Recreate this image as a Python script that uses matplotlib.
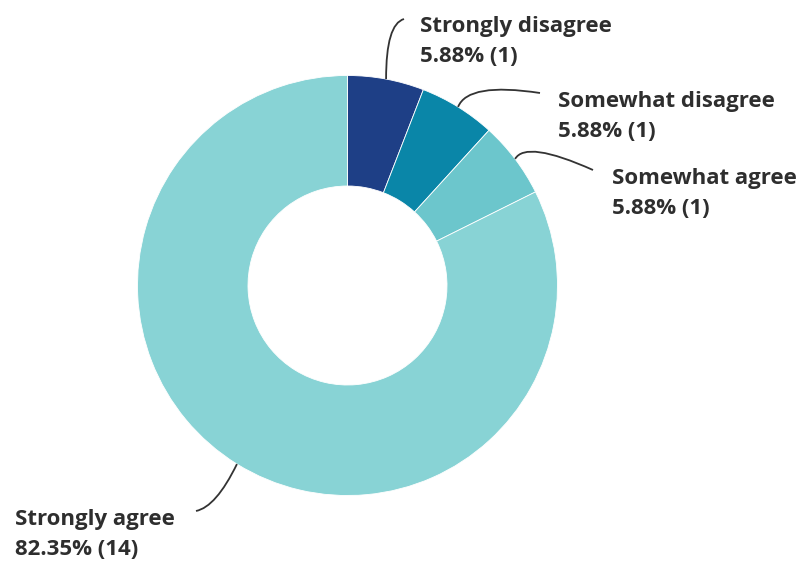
import numpy as np
import matplotlib
matplotlib.use("Agg")
import matplotlib.pyplot as plt
from matplotlib.path import Path
from matplotlib.patches import PathPatch

categories = ["Strongly disagree", "Somewhat disagree", "Somewhat agree", "Strongly agree"]
counts = [1, 1, 1, 14]
percents = ["5.88%", "5.88%", "5.88%", "82.35%"]
colors = ["#1e3f86", "#0a86a8", "#6cc6cc", "#88d3d5"]

W, H = 804, 562
fig = plt.figure(figsize=(W / 100, H / 100), dpi=100)
ax = fig.add_axes([0, 0, 1, 1])

cx, cy, R, r_in = 347.5, 285.5, 210, 99.5
# y axis inverted (pixel-like coords): data angles run opposite to visual ones
wedges, _ = ax.pie(counts, colors=colors, startangle=-90, counterclock=True,
                   radius=R, center=(cx, cy),
                   wedgeprops=dict(width=R - r_in, edgecolor="white", linewidth=0.6))
ax.set_xlim(0, W)
ax.set_ylim(H, 0)
ax.set_aspect("auto")
ax.axis("off")

# label layout: (text x, first baseline y, connector end, control point)
layout = [
    (420, 32, (404, 19), (386, 24)),
    (558, 107, (540, 93), (468, 82)),
    (612, 184, (593, 170), (526, 140)),
    (15, 525, (196, 511), (216, 507)),
]

font = dict(family=["Open Sans", "DejaVu Sans"], fontweight="bold",
            fontsize=16, color="#2e2e2e")

for w, cat, pct, n, (tx, ty, end, ctrl) in zip(wedges, categories, percents, counts, layout):
    mid = np.deg2rad((w.theta1 + w.theta2) / 2)
    start = (cx + R * np.cos(mid), cy + R * np.sin(mid))
    path = Path([start, ctrl, end], [Path.MOVETO, Path.CURVE3, Path.CURVE3])
    ax.add_patch(PathPatch(path, facecolor="none", edgecolor="#333333", lw=1.3))
    ax.text(tx, ty, cat, va="baseline", ha="left", **font)
    ax.text(tx, ty + 30, f"{pct} ({n})", va="baseline", ha="left", **font)

fig.savefig("out.png", dpi=100, facecolor="white")
